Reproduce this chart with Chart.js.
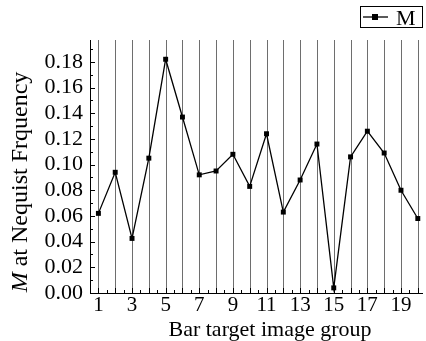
<!DOCTYPE html>
<html>
<head>
<meta charset="utf-8">
<script src="https://cdn.jsdelivr.net/npm/chart.js@4.4.1/dist/chart.umd.min.js"></script>
<style>
  html, body { margin: 0; padding: 0; background: #fff; }
  #wrap { width: 426px; height: 341px; }
</style>
</head>
<body>
<div id="wrap"><canvas id="chart"></canvas></div>
<script>
// data
const groups = [1, 2, 3, 4, 5, 6, 7, 8, 9, 10, 11, 12, 13, 14, 15, 16, 17, 18, 19, 20];
const mValues = [0.062, 0.094, 0.0425, 0.105, 0.182, 0.137, 0.092, 0.095, 0.108, 0.083,
                 0.124, 0.063, 0.088, 0.116, 0.004, 0.106, 0.126, 0.109, 0.080, 0.058];
const xTickLabels = [1, 3, 5, 7, 9, 11, 13, 15, 17, 19];
const yTickValues = [0, 0.02, 0.04, 0.06, 0.08, 0.10, 0.12, 0.14, 0.16, 0.18];
const seriesName = 'M';
const yTitleItalic = 'M';
const yTitleRest = ' at Nequist Frquency';
const xTitle = 'Bar target image group';

const FONT = '"Liberation Serif", "Times New Roman", serif';

// grid lines, inward ticks, titles and the boxed legend
const decor = {
  id: 'decor',
  beforeDatasetsDraw(chart) {
    const { ctx, chartArea: a, scales: { x, y } } = chart;
    ctx.save();
    ctx.lineWidth = 1;
    ctx.strokeStyle = '#6e6e6e';
    groups.forEach(g => {
      const px = Math.round(x.getPixelForValue(g)) + 0.5;
      ctx.beginPath(); ctx.moveTo(px, a.top); ctx.lineTo(px, a.bottom); ctx.stroke();
    });
    ctx.strokeStyle = '#000';
    // y ticks (major every 0.02, minor every 0.01)
    for (let i = 0; i <= 19; i++) {
      const py = Math.round(y.getPixelForValue(i * 0.01)) + 0.5;
      const len = i % 2 ? 3 : 5;
      ctx.beginPath(); ctx.moveTo(a.left, py); ctx.lineTo(a.left + len, py); ctx.stroke();
    }
    // x ticks
    groups.forEach(g => {
      const px = Math.round(x.getPixelForValue(g)) + 0.5;
      ctx.beginPath(); ctx.moveTo(px, a.bottom); ctx.lineTo(px, a.bottom - 5); ctx.stroke();
      const pm = Math.round(x.getPixelForValue(g - 0.5)) + 0.5;
      ctx.beginPath(); ctx.moveTo(pm, a.bottom); ctx.lineTo(pm, a.bottom - 3); ctx.stroke();
    });
    ctx.restore();
  },
  afterDraw(chart) {
    const { ctx } = chart;
    ctx.save();
    ctx.fillStyle = '#000';
    ctx.textBaseline = 'alphabetic';

    // x title
    ctx.font = `22px ${FONT}`;
    ctx.textAlign = 'center';
    ctx.fillText(xTitle, 270, 336);

    // y title, italic M then upright text
    ctx.translate(27, 182);
    ctx.rotate(-Math.PI / 2);
    ctx.font = `italic 24px ${FONT}`;
    const w1 = ctx.measureText(yTitleItalic).width;
    ctx.font = `24px ${FONT}`;
    const w2 = ctx.measureText(yTitleRest).width;
    const sx = -(w1 + w2) / 2;
    ctx.textAlign = 'left';
    ctx.font = `italic 24px ${FONT}`;
    ctx.fillText(yTitleItalic, sx, 0);
    ctx.font = `24px ${FONT}`;
    ctx.fillText(yTitleRest, sx + w1, 0);
    ctx.setTransform(1, 0, 0, 1, 0, 0);

    // legend box
    ctx.strokeStyle = '#000';
    ctx.lineWidth = 1;
    ctx.strokeRect(360.5, 6.5, 62, 21);
    ctx.lineWidth = 1.3;
    ctx.beginPath(); ctx.moveTo(363, 17); ctx.lineTo(388, 17); ctx.stroke();
    ctx.fillRect(372, 14, 6, 6);
    ctx.font = `22px ${FONT}`;
    ctx.textAlign = 'left';
    ctx.fillText(seriesName, 396, 25);
    ctx.restore();
  }
};

new Chart(document.getElementById('chart'), {
  type: 'line',
  data: {
    datasets: [{
      label: seriesName,
      data: groups.map((g, i) => ({ x: g, y: mValues[i] })),
      borderColor: '#000',
      borderWidth: 1.3,
      backgroundColor: '#000',
      pointStyle: 'rect',
      pointRadius: 3.5,
      pointBorderWidth: 0,
      tension: 0,
      clip: false
    }]
  },
  options: {
    responsive: true,
    maintainAspectRatio: false,
    animation: false,
    layout: { padding: { top: 40, right: 0, left: 0, bottom: 0 } },
    plugins: { legend: { display: false }, tooltip: { enabled: false } },
    scales: {
      x: {
        type: 'linear',
        min: 0.5,
        max: 20.25,
        afterBuildTicks: s => { s.ticks = groups.map(v => ({ value: v })); },
        afterFit: s => { s.height = 48; },
        grid: { display: false, drawTicks: false },
        border: { display: true, color: '#000', width: 1 },
        ticks: {
          autoSkip: false,
          maxRotation: 0,
          padding: 0,
          color: '#000',
          font: { family: FONT, size: 21 },
          callback: v => xTickLabels.includes(v) ? String(v) : ''
        }
      },
      y: {
        min: 0,
        max: 0.197,
        afterBuildTicks: s => { s.ticks = yTickValues.map(v => ({ value: v })); },
        afterFit: s => { s.width = 90; },
        grid: { display: false, drawTicks: false },
        border: { display: true, color: '#000', width: 1 },
        ticks: {
          autoSkip: false,
          padding: 7,
          color: '#000',
          font: { family: FONT, size: 22 },
          callback: v => v.toFixed(2)
        }
      }
    }
  },
  plugins: [decor]
});
</script>
</body>
</html>
